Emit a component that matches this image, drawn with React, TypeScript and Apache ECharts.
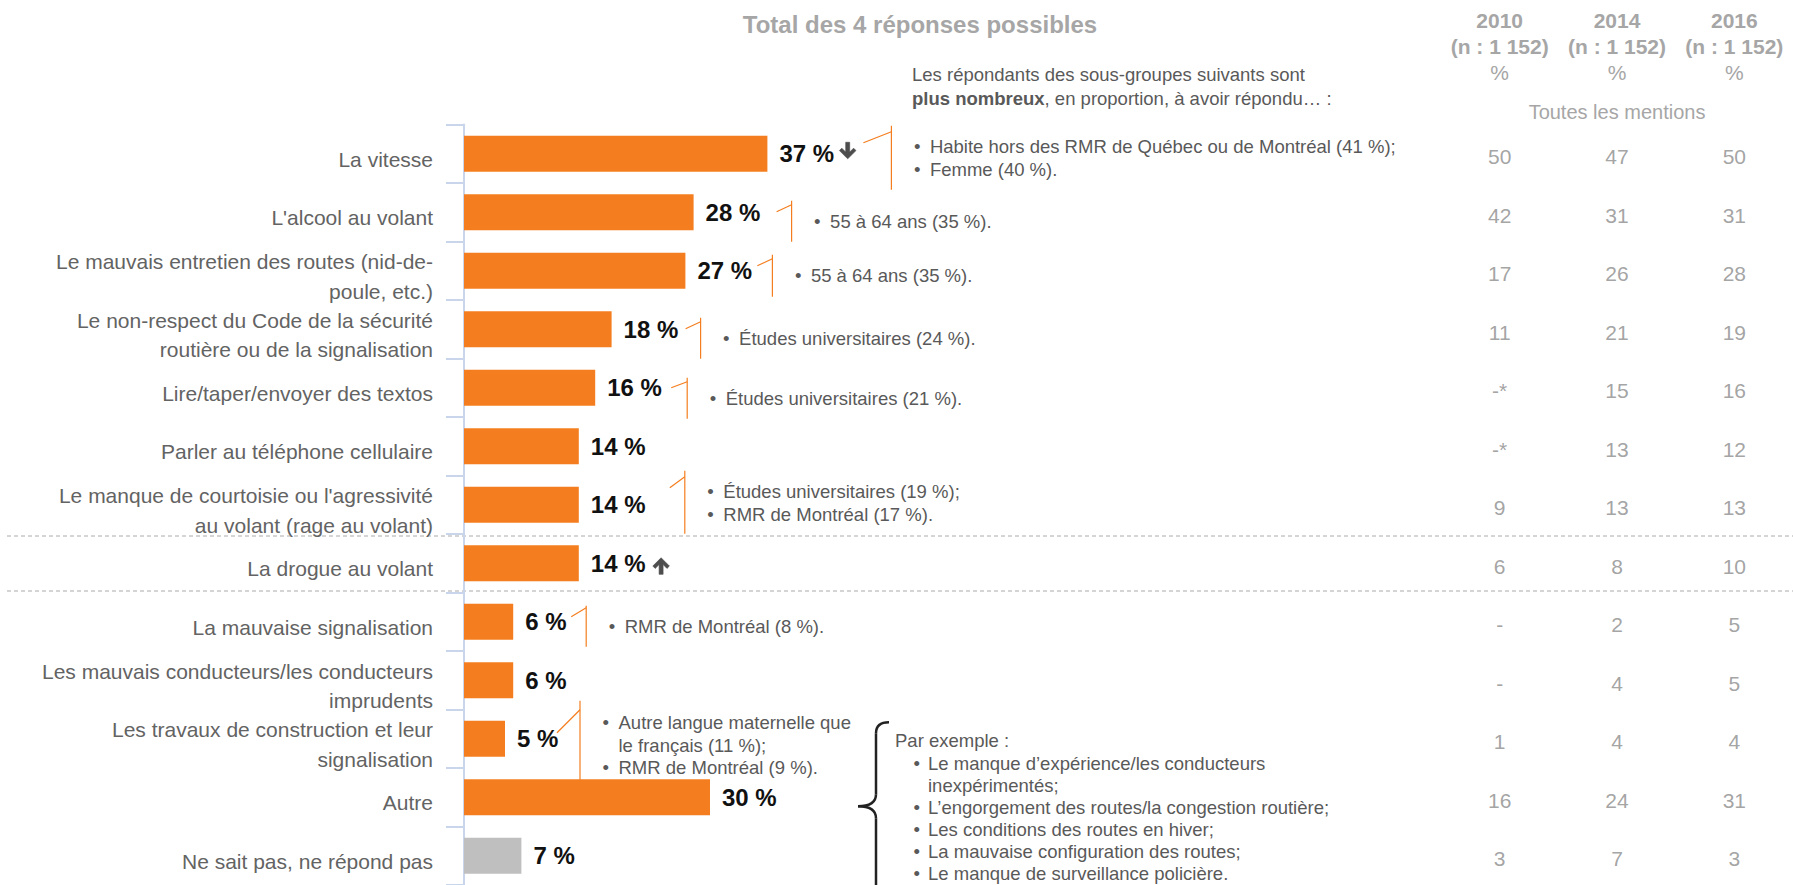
import React, { useEffect, useRef } from "react";
import * as echarts from "echarts";

// ---------- DATA ----------
const categories = [
  "La vitesse",
  "L'alcool au volant",
  "Le mauvais entretien des routes (nid-de-\npoule, etc.)",
  "Le non-respect du Code de la sécurité\nroutière ou de la signalisation",
  "Lire/taper/envoyer des textos",
  "Parler au téléphone cellulaire",
  "Le manque de courtoisie ou l'agressivité\nau volant (rage au volant)",
  "La drogue au volant",
  "La mauvaise signalisation",
  "Les mauvais conducteurs/les conducteurs\nimprudents",
  "Les travaux de construction et leur\nsignalisation",
  "Autre",
  "Ne sait pas, ne répond pas",
];
const totalPercent = [37, 28, 27, 18, 16, 14, 14, 14, 6, 6, 5, 30, 7];
const nonResponseIndex = 12;

const years = ["2010", "2014", "2016"];
const sampleSizes = ["(n : 1 152)", "(n : 1 152)", "(n : 1 152)"];
const mentions2010 = ["50", "42", "17", "11", "-*", "-*", "9", "6", "-", "-", "1", "16", "3"];
const mentions2014 = ["47", "31", "26", "21", "15", "13", "13", "8", "2", "4", "4", "24", "7"];
const mentions2016 = ["50", "31", "28", "19", "16", "12", "13", "10", "5", "5", "4", "31", "3"];

const trendArrows = [
  { row: 0, dir: "down" },
  { row: 7, dir: "up" },
];

const subgroupNotes = [
  { row: 0, items: ["Habite hors des RMR de Québec ou de Montréal (41 %);", "Femme (40 %)."] },
  { row: 1, items: ["55 à 64 ans (35 %)."] },
  { row: 2, items: ["55 à 64 ans (35 %)."] },
  { row: 3, items: ["Études universitaires (24 %)."] },
  { row: 4, items: ["Études universitaires (21 %)."] },
  { row: 6, items: ["Études universitaires (19 %);", "RMR de Montréal (17 %)."] },
  { row: 8, items: ["RMR de Montréal (8 %)."] },
  { row: 10, items: ["Autre langue maternelle que\nle français (11 %);", "RMR de Montréal (9 %)."] },
];

const otherRow = 11;
const otherExamples = [
  "Le manque d’expérience/les conducteurs\ninexpérimentés;",
  "L’engorgement des routes/la congestion routière;",
  "Les conditions des routes en hiver;",
  "La mauvaise configuration des routes;",
  "Le manque de surveillance policière.",
];

// ---------- LAYOUT / STYLE ----------
const FONT = "'Liberation Sans', Arial, Helvetica, sans-serif";
const ORANGE = "#f47e1f";
const GREY_BAR = "#bfbfbf";
const NOTE_COLOR = "#595959";
const LINE_H = 22.5;

const calloutLayout: Record<number, any> = {
  0: { sx: 96, sy: -11, ex: 124, ey: -22, top: -28, bot: 36, ty: -7 },
  1: { sx: 83, sy: -0.5, ex: 98, ey: -7.5, top: -11.5, bot: 29.5, ty: 9.5 },
  2: { sx: 72, sy: -5, ex: 87, ey: -12, top: -16, bot: 26, ty: 5 },
  3: { sx: 74, sy: -0.5, ex: 89, ey: -7.5, top: -11.5, bot: 29.5, ty: 9.5 },
  4: { sx: 76, sy: 0, ex: 92, ey: -6, top: -10, bot: 31, ty: 11 },
  6: { sx: 91, sy: -17, ex: 106, ey: -28, top: -34, bot: 29, ty: -13 },
  8: { sx: 58, sy: -5, ex: 73, ey: -14, top: -16, bot: 25, ty: 5 },
  10: { sx: 52, sy: -6, ex: 75, ey: -29, top: -38, bot: 48, ty: -16 },
};
const arrowLayout: Record<string, { dx: number; dy: number }> = {
  down: { dx: 72, dy: -11.5 },
  up: { dx: 74, dy: -5.5 },
};

let shapesRegistered = false;
function registerShapes() {
  if (shapesRegistered) return;
  shapesRegistered = true;
  echarts.graphic.registerShape(
    "trendDown",
    echarts.graphic.extendPath("M6.3 0 L10.3 0 L10.3 9.8 L14.2 5.9 L16.6 8.3 L8.3 16.6 L0 8.3 L2.4 5.9 L6.3 9.8 Z", {})
  );
  echarts.graphic.registerShape(
    "trendUp",
    echarts.graphic.extendPath("M6.3 16.6 L10.3 16.6 L10.3 6.8 L14.2 10.7 L16.6 8.3 L8.3 0 L0 8.3 L2.4 10.7 L6.3 6.8 Z", {})
  );
}

function txt(x: number, y: number, text: string, extra: any = {}) {
  return {
    type: "text",
    x,
    y,
    silent: true,
    style: {
      text,
      fontFamily: FONT,
      fontSize: 18.5,
      fill: NOTE_COLOR,
      align: "left",
      verticalAlign: "middle",
      ...extra,
    },
  };
}

export default function App() {
  const ref = useRef<HTMLDivElement>(null);

  useEffect(() => {
    if (!ref.current) return;
    registerShapes();
    const chart = echarts.init(ref.current, undefined, { renderer: "svg" });

    const mentionSets = [mentions2010, mentions2014, mentions2016];

    chart.setOption({
      animation: false,
      backgroundColor: "#ffffff",
      grid: [
        { left: 464, top: 124.5, width: 820, height: 760.5 },
        { left: 1441, top: 124.5, width: 360, height: 760.5 },
      ],
      xAxis: [
        { type: "value", gridIndex: 0, min: 0, max: 100, show: false },
        {
          type: "category",
          gridIndex: 1,
          position: "top",
          data: years,
          axisLine: { show: false },
          axisTick: { show: false },
          splitLine: { show: false },
          axisLabel: {
            margin: 39.5,
            interval: 0,
            formatter: (v: string, i: number) => `{y|${v}}\n{y|${sampleSizes[i]}}\n{p|%}`,
            rich: {
              y: { fontFamily: FONT, fontSize: 21, fontWeight: "bold", color: "#a6a6a6", lineHeight: 26 },
              p: { fontFamily: FONT, fontSize: 21, color: "#a6a6a6", lineHeight: 26 },
            },
          },
        },
      ],
      yAxis: [
        {
          type: "category",
          gridIndex: 0,
          inverse: true,
          data: categories,
          offset: 1.5,
          axisLine: { show: true, lineStyle: { color: "#c9d5ea", width: 2 } },
          axisTick: { show: true, length: 18, lineStyle: { color: "#c9d5ea", width: 2 } },
          axisLabel: {
            interval: 0,
            margin: 29.5,
            align: "right",
            formatter: (v: string) => `{s| }\n{t|${v}}`,
            rich: {
              s: { fontSize: 1, lineHeight: 11 },
              t: {
                fontFamily: FONT,
                fontSize: 21,
                color: "#636363",
                lineHeight: 29.5,
                align: "right",
              },
            },
          },
        },
        {
          type: "category",
          gridIndex: 1,
          inverse: true,
          data: categories,
          show: false,
        },
      ],
      series: [
        {
          type: "bar",
          xAxisIndex: 0,
          yAxisIndex: 0,
          barWidth: 36,
          data: totalPercent.map((v, i) => ({
            value: v,
            itemStyle: { color: i === nonResponseIndex ? GREY_BAR : ORANGE },
          })),
          label: {
            show: true,
            position: "right",
            distance: 12,
            formatter: (p: any) => `${p.value} %`,
            fontFamily: FONT,
            fontSize: 24,
            fontWeight: "bold",
            color: "#111111",
          },
          silent: true,
        },
        ...mentionSets.map((arr, k) => ({
          type: "scatter",
          name: years[k],
          xAxisIndex: 1,
          yAxisIndex: 1,
          symbolSize: 1,
          itemStyle: { color: "rgba(0,0,0,0)" },
          data: arr.map((_, i) => [k, i]),
          label: {
            show: true,
            position: "inside",
            offset: [0, 3],
            formatter: (p: any) => arr[p.dataIndex],
            fontFamily: FONT,
            fontSize: 21,
            color: "#8c8c8c",
          },
          silent: true,
        })),
      ],
    });

    // ---------- annotations anchored to the chart scales ----------
    const g: any[] = [];
    const px = (row: number) =>
      chart.convertToPixel({ seriesIndex: 0 }, [totalPercent[row], row]) as number[];

    // Titles
    g.push(
      txt(920, 24, "Total des 4 réponses possibles", {
        fontSize: 24,
        fontWeight: "bold",
        fill: "#a6a6a6",
        align: "center",
      })
    );
    g.push(txt(912, 74, "Les répondants des sous-groupes suivants sont"));
    g.push(
      txt(912, 98, "{b|plus nombreux}, en proportion, à avoir répondu… :", {
        rich: {
          b: { fontFamily: FONT, fontSize: 18.5, fontWeight: "bold", fill: NOTE_COLOR },
        },
      })
    );
    const midCol = chart.convertToPixel({ xAxisIndex: 1 }, 1) as unknown as number;
    g.push(txt(midCol, 112, "Toutes les mentions", { fontSize: 20, fill: "#a6a6a6", align: "center" }));

    // Dashed separators around the "drogue" row
    const [, dy7] = px(7);
    [dy7 - 27.25, dy7 + 27.75].forEach((y) => {
      g.push({
        type: "line",
        silent: true,
        shape: { x1: 7, y1: y, x2: 1793, y2: y },
        style: { stroke: "#aaaaaa", lineWidth: 1, lineDash: [4, 3] },
      });
    });

    // Trend arrows
    trendArrows.forEach((t) => {
      const [bx, by] = px(t.row);
      const L = arrowLayout[t.dir];
      g.push({
        type: t.dir === "down" ? "trendDown" : "trendUp",
        x: bx + L.dx,
        y: by + L.dy,
        scaleX: 1,
        scaleY: 1,
        silent: true,
        style: { fill: "#4d4d4d", stroke: "#4d4d4d", lineWidth: 0.6 },
      });
    });

    // Sub-group callouts
    subgroupNotes.forEach((n) => {
      const L = calloutLayout[n.row];
      const [bx, by] = px(n.row);
      const vx = bx + L.ex;
      g.push({
        type: "line",
        silent: true,
        shape: { x1: bx + L.sx, y1: by + L.sy, x2: vx, y2: by + L.ey },
        style: { stroke: ORANGE, lineWidth: 1.2 },
      });
      g.push({
        type: "line",
        silent: true,
        shape: { x1: vx, y1: by + L.top, x2: vx, y2: by + L.bot },
        style: { stroke: ORANGE, lineWidth: 1.2 },
      });
      const bullets = n.items.map((it) => "•" + "\n".repeat(it.split("\n").length - 1)).join("\n");
      const y0 = by + L.ty - LINE_H / 2;
      g.push(txt(vx + 22.5, y0, bullets, { verticalAlign: "top", lineHeight: LINE_H }));
      g.push(txt(vx + 38.5, y0, n.items.join("\n"), { verticalAlign: "top", lineHeight: LINE_H }));
    });

    // Brace + examples for "Autre"
    const [, oy] = px(otherRow);
    const BX = 876;
    const braceStyle = { stroke: "#222222", lineWidth: 2.5, fill: "none" };
    g.push({
      type: "bezierCurve",
      silent: true,
      shape: { x1: BX + 13, y1: oy - 75, cpx1: BX, cpy1: oy - 75, x2: BX, y2: oy - 64 },
      style: braceStyle,
    });
    g.push({
      type: "line",
      silent: true,
      shape: { x1: BX, y1: oy - 64, x2: BX, y2: oy - 3 },
      style: braceStyle,
    });
    g.push({
      type: "bezierCurve",
      silent: true,
      shape: { x1: BX, y1: oy - 3, cpx1: BX, cpy1: oy + 9, x2: BX - 18, y2: oy + 9 },
      style: braceStyle,
    });
    g.push({
      type: "bezierCurve",
      silent: true,
      shape: { x1: BX - 18, y1: oy + 9, cpx1: BX, cpy1: oy + 9, x2: BX, y2: oy + 21 },
      style: braceStyle,
    });
    g.push({
      type: "line",
      silent: true,
      shape: { x1: BX, y1: oy + 21, x2: BX, y2: oy + 100 },
      style: braceStyle,
    });
    g.push(txt(BX + 19, oy - 57, "Par exemple :"));
    const exBullets = otherExamples
      .map((it) => "•" + "\n".repeat(it.split("\n").length - 1))
      .join("\n");
    const ey0 = oy - 34 - 11;
    g.push(txt(BX + 37.5, ey0, exBullets, { verticalAlign: "top", lineHeight: 22 }));
    g.push(txt(BX + 52, ey0, otherExamples.join("\n"), { verticalAlign: "top", lineHeight: 22 }));

    chart.setOption({ graphic: g });

    return () => {
      chart.dispose();
    };
  }, []);

  return (
    <div
      ref={ref}
      style={{
        position: "fixed",
        left: 0,
        top: 0,
        width: 1793,
        height: 885,
        background: "#ffffff",
      }}
    />
  );
}
